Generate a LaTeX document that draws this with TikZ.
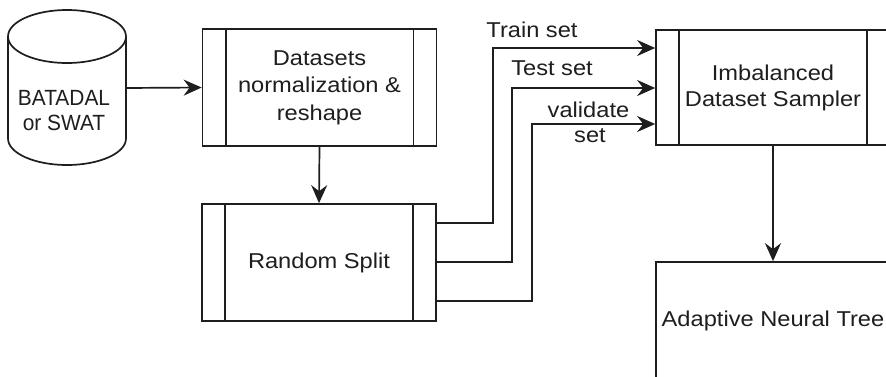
\documentclass[tikz,border=0pt]{standalone}
\usepackage{fontspec}
\setmainfont{Liberation Sans}
\newfontfamily\boxfont[FakeStretch=1.1]{Liberation Sans}
\newfontfamily\cylfont[FakeStretch=0.95]{Liberation Sans}
\usetikzlibrary{arrows.meta}
\definecolor{ink}{HTML}{1E1E1E}
\tikzset{
  procbox/.style={draw=ink, line width=1.7pt, fill=white, rectangle, inner sep=0pt,
    minimum width=234pt, minimum height=117pt, align=center, text=ink,
    font=\boxfont\fontsize{21.5}{27.5}\selectfont},
  plainbox/.style={procbox},
  arr/.style={draw=ink, line width=1.7pt, -{Stealth[length=18pt 0, width=16pt 0, inset=6pt 0]}},
  lbl/.style={text=ink, inner sep=0pt, font=\boxfont\fontsize{21.5}{26}\selectfont},
  cyltxt/.style={text=ink, inner sep=0pt, align=center, font=\cylfont\fontsize{22}{25}\selectfont},
  sideline/.style={draw=ink, line width=1.7pt}
}
\begin{document}
\begin{tikzpicture}[x=1pt,y=-1pt]
\useasboundingbox (0,0) rectangle (886,376);
\clip (0,0) rectangle (886,376);
\fill[white] (0,0) rectangle (886,376);

% cylinder
\node[minimum width=118pt, minimum height=155pt, inner sep=0pt] (cyl) at (67,88) {};
\draw[sideline, fill=white] (8,36.5) -- (8,138.5)
  arc[start angle=180, end angle=360, x radius=59pt, y radius=26.5pt] -- (126,36.5);
\draw[sideline, fill=white] (67,36.5) ellipse [x radius=59pt, y radius=26.5pt];
\node[cyltxt] (cyltext) at (64,110.5) {BATADAL\\or SWAT};

% process boxes
\node[procbox] (ds) at (319.5,87.5) {Datasets\\normalization \&\\reshape};
\draw[sideline] ([xshift=24pt]ds.north west) -- ([xshift=24pt]ds.south west);
\draw[sideline] ([xshift=-24pt]ds.north east) -- ([xshift=-24pt]ds.south east);

\node[procbox] (rs) at (319,262.5) {Random Split};
\draw[sideline] ([xshift=24pt]rs.north west) -- ([xshift=24pt]rs.south west);
\draw[sideline] ([xshift=-24pt]rs.north east) -- ([xshift=-24pt]rs.south east);

\node[procbox, minimum height=115pt, font=\boxfont\fontsize{21.5}{26}\selectfont] (sm) at (773,87.5) {Imbalanced\\Dataset Sampler};
\draw[sideline] ([xshift=24pt]sm.north west) -- ([xshift=24pt]sm.south west);
\draw[sideline] ([xshift=-24pt]sm.north east) -- ([xshift=-24pt]sm.south east);

\node[plainbox] (ant) at (773,320.5) {Adaptive Neural Tree};

% connectors
\draw[arr] (cyl.east) -- (ds.west);
\draw[arr] (ds.south) -- (rs.north);
\coordinate (t1) at (493,48);
\coordinate (t2) at (512,88);
\coordinate (t3) at (532,124);
\draw[arr] ([yshift=39.5pt]rs.east) -| (t1) -- (sm.west |- t1);
\draw[arr] ([yshift=0.5pt]rs.east) -| (t2) -- (sm.west |- t2);
\draw[arr] ([yshift=-38.5pt]rs.east) -| (t3) -- (sm.west |- t3);
\draw[arr] (sm.south) -- (ant.north);

% labels
\node[lbl, anchor=base] (ltrain) at (532,37) {Train set};
\node[lbl, anchor=base] (ltest) at (552,75) {Test set};
\node[lbl, anchor=base] (lval) at (588.5,117) {validate};
\node[lbl, anchor=base] (lset) at (590,142.5) {set};
\end{tikzpicture}
\end{document}
